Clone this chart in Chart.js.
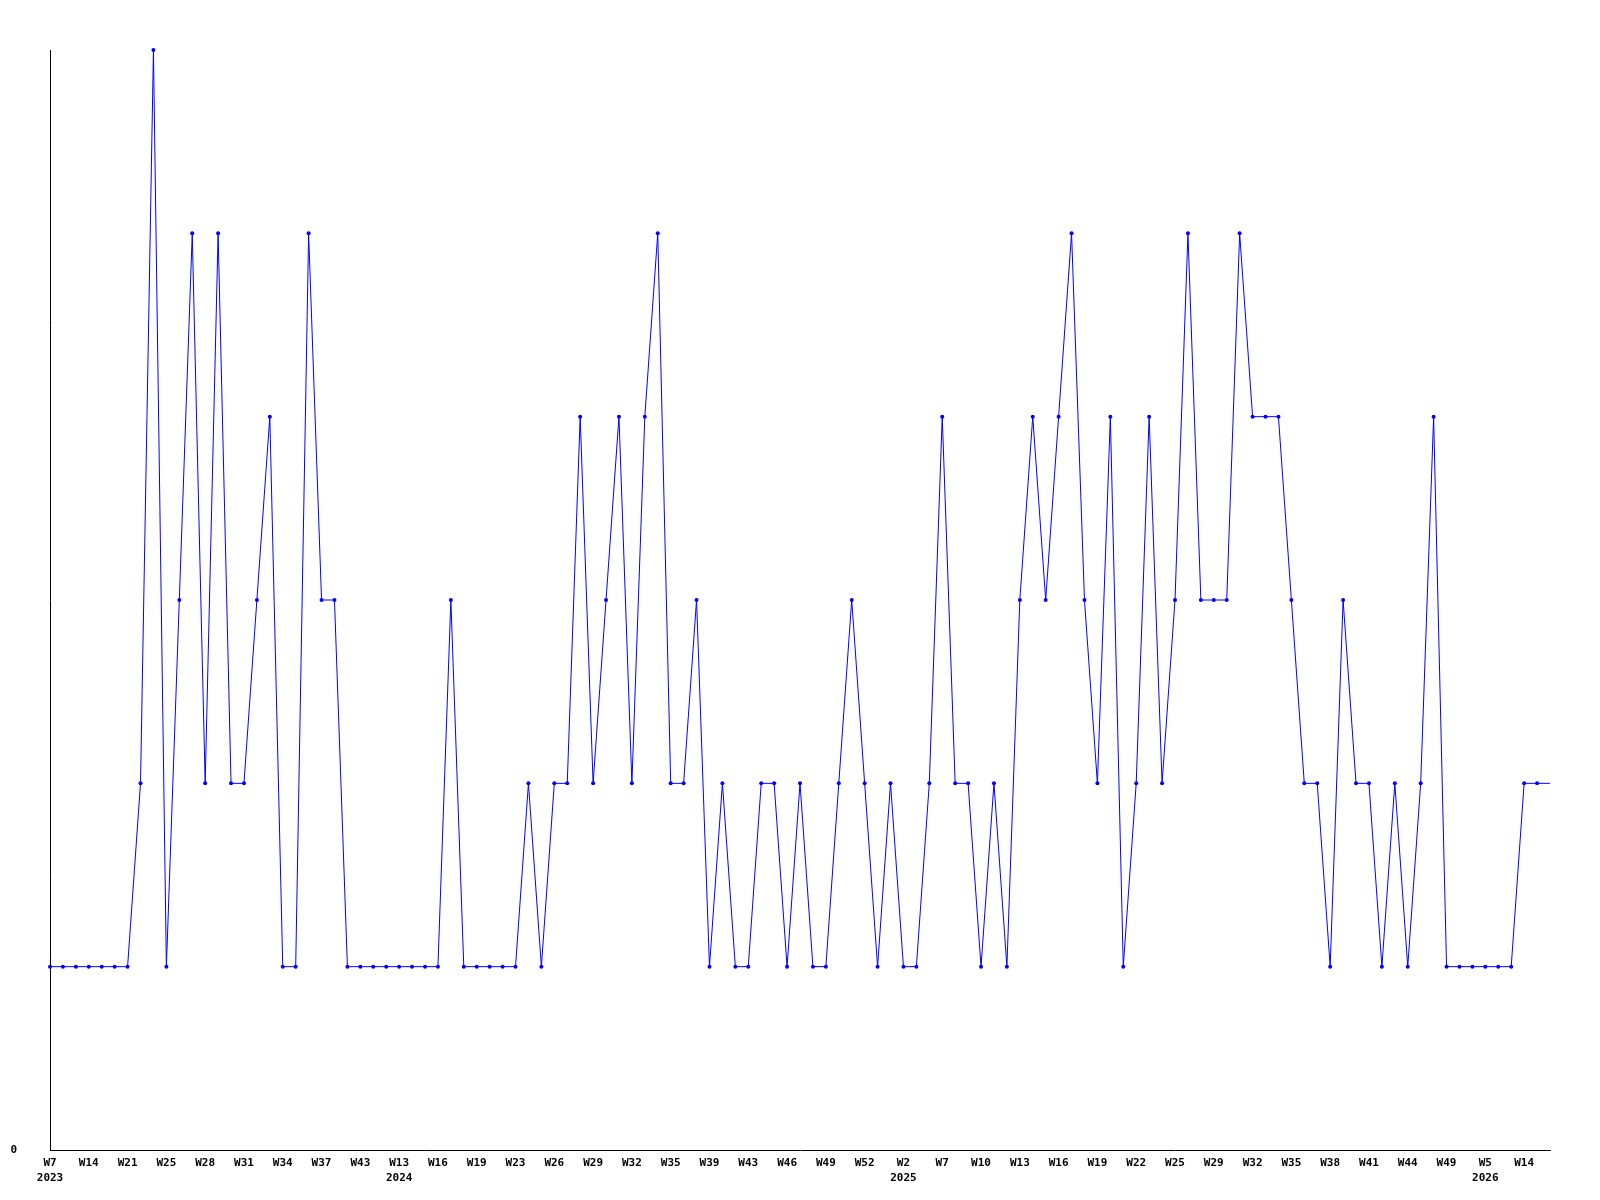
<!DOCTYPE html>
<html>
<head>
<meta charset="utf-8">
<script src="https://cdn.jsdelivr.net/npm/chart.js@4/dist/chart.umd.min.js"></script>
<style>
  body { margin: 0; background: #fff; }
</style>
</head>
<body>
<canvas id="chart" width="1600" height="1200"></canvas>
<script>
// weekly counts, one point per week with data
let values = [
    1, 1, 1, 1, 1, 1, 1, 2, 6, 1,
    3, 5, 2, 5, 2, 2, 3, 4, 1, 1,
    5, 3, 3, 1, 1, 1, 1, 1, 1, 1,
    1, 3, 1, 1, 1, 1, 1, 2, 1, 2,
    2, 4, 2, 3, 4, 2, 4, 5, 2, 2,
    3, 1, 2, 1, 1, 2, 2, 1, 2, 1,
    1, 2, 3, 2, 1, 2, 1, 1, 2, 4,
    2, 2, 1, 2, 1, 3, 4, 3, 4, 5,
    3, 2, 4, 1, 2, 4, 2, 3, 5, 3,
    3, 3, 5, 4, 4, 4, 3, 2, 2, 1,
    3, 2, 2, 1, 2, 1, 2, 4, 1, 1,
    1, 1, 1, 1, 2, 2, 2
]

// only every third week is labelled on the axis
let tickLabels = [
    "W7", "W14", "W21", "W25", "W28", "W31", "W34", "W37", "W43", "W13",
    "W16", "W19", "W23", "W26", "W29", "W32", "W35", "W39", "W43", "W46",
    "W49", "W52", "W2", "W7", "W10", "W13", "W16", "W19", "W22", "W25",
    "W29", "W32", "W35", "W38", "W41", "W44", "W49", "W5", "W14"
]
let yearLabels = { "0": "2023", "9": "2024", "22": "2025", "37": "2026" }
let labelEvery = 3

let chart_labels = []
for (let i = 0; i < values.length; i++) {
    if (i % labelEvery === 0) {
        let n = i / labelEvery
        if (yearLabels[n]) {
            chart_labels.push([tickLabels[n], yearLabels[n]])
        } else {
            chart_labels.push(tickLabels[n])
        }
    } else {
        chart_labels.push('')
    }
}

const tickFont = { family: "'DejaVu Sans Mono', monospace", size: 11, weight: 'bold', lineHeight: 1.4 }

const data = {
    labels: chart_labels,
    datasets: [{
        data: values,
        fill: false,
        clip: false,
        borderColor: '#0000ff',
        backgroundColor: '#0000ff',
        borderWidth: 1,
        pointRadius: ctx => ctx.dataIndex === values.length - 1 ? 0 : 2,
        pointBorderWidth: 0,
        pointHoverRadius: 2,
        tension: 0
    }]
}

const config = {
    type: 'line',
    data: data,
    options: {
        responsive: false,
        animation: false,
        layout: { padding: { top: 50, right: 50, left: 0, bottom: 0 } },
        plugins: {
            legend: { display: false },
            tooltip: { enabled: false }
        },
        scales: {
            x: {
                offset: false,
                grid: { display: false },
                border: { display: true, color: '#000', width: 1 },
                ticks: {
                    autoSkip: false,
                    maxRotation: 0,
                    minRotation: 0,
                    padding: -3,
                    color: '#000',
                    font: tickFont
                },
                afterFit: scale => { scale.height = 50 }
            },
            y: {
                min: 0,
                max: 6,
                grid: { display: false },
                border: { display: true, color: '#000', width: 1 },
                ticks: {
                    stepSize: 1,
                    padding: 25,
                    color: '#000',
                    font: tickFont,
                    callback: v => v === 0 ? '0' : ''
                },
                afterFit: scale => { scale.width = 50 }
            }
        }
    }
}

let myChart = new Chart(document.getElementById('chart'), config)
</script>
</body>
</html>
